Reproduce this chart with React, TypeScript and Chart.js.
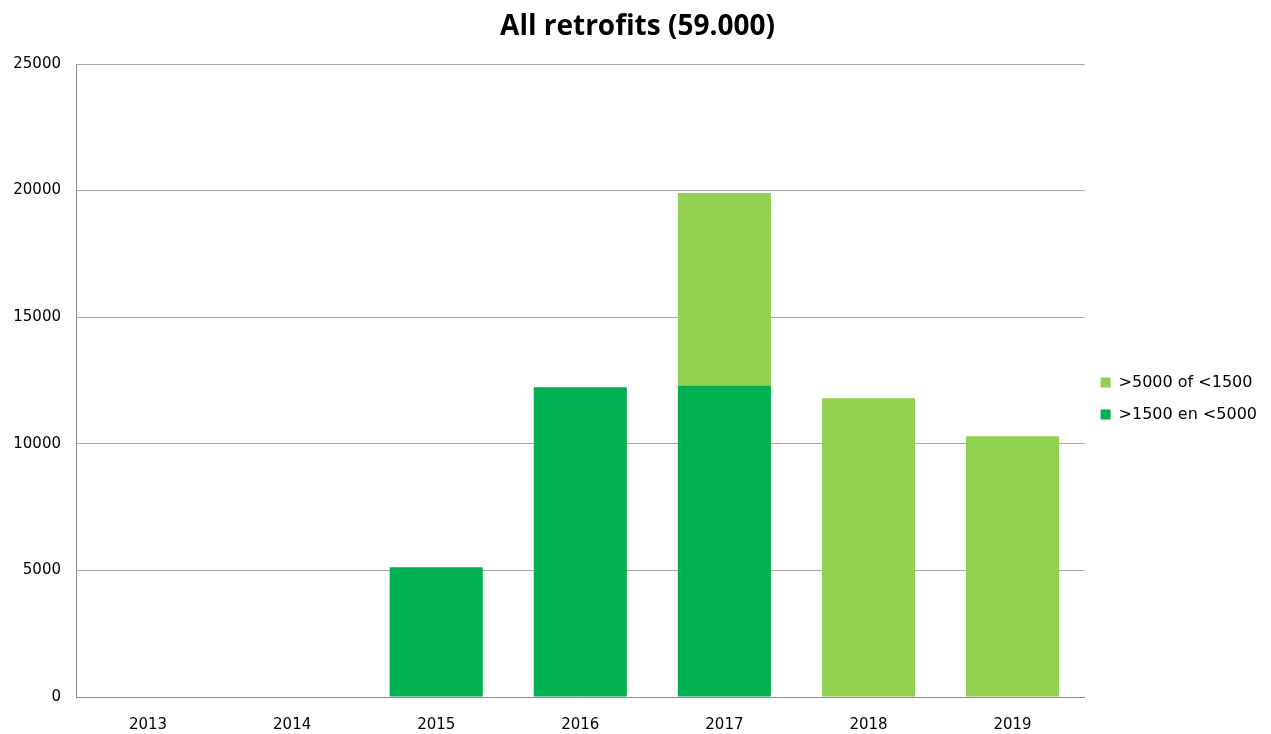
import React, { useEffect, useRef } from "react";
import { Chart, registerables } from "chart.js";

Chart.register(...registerables);

const categories = ["2013", "2014", "2015", "2016", "2017", "2018", "2019"];
const midRange = [0, 0, 5120, 12230, 12300, 0, 0];
const outerRange = [0, 0, 0, 0, 7610, 11800, 10300];
const yTicks = [0, 5000, 10000, 15000, 20000, 25000];
const titleText = "All retrofits (59.000)";
const seriesNames = [">1500 en <5000", ">5000 of <1500"];

export default function App() {
  const ref = useRef<HTMLCanvasElement>(null);
  useEffect(() => {
    document.documentElement.style.overflow = "hidden";
    if (!ref.current) return;
    const font = "'DejaVu Sans', sans-serif";
    const chart = new Chart(ref.current, {
      type: "bar",
      data: {
        labels: categories,
        datasets: [
          {
            label: seriesNames[0],
            data: midRange,
            backgroundColor: "#00B050",
            barPercentage: 0.646,
            categoryPercentage: 1,
          },
          {
            label: seriesNames[1],
            data: outerRange,
            backgroundColor: "#92D050",
            barPercentage: 0.646,
            categoryPercentage: 1,
          },
        ],
      },
      options: {
        animation: false,
        responsive: true,
        maintainAspectRatio: false,
        layout: { padding: { left: 0, right: -4, top: 0, bottom: 0 } },
        plugins: {
          title: {
            display: true,
            text: titleText,
            color: "#000000",
            font: { family: "'Open Sans', sans-serif", size: 28, weight: "bold" },
            padding: { top: 2, bottom: 20.4 },
          },
          legend: {
            position: "right",
            reverse: true,
            title: {
              display: true,
              text: " ",
              font: { size: 10 },
              padding: { top: 0, bottom: 43 },
            },
            labels: {
              boxWidth: 10,
              boxHeight: 10,
              color: "#000000",
              font: { family: font, size: 16 },
              padding: 16,
            },
          },
          tooltip: { enabled: false },
        },
        scales: {
          x: {
            stacked: true,
            grid: { display: false, drawTicks: false },
            border: { display: true, color: "#8c8c8c", width: 1 },
            ticks: { color: "#000000", font: { family: font, size: 15 }, padding: 19 },
            afterFit: (s: any) => {
              s.height = 37;
            },
          },
          y: {
            stacked: true,
            min: 0,
            max: 25000,
            afterBuildTicks: (s: any) => {
              s.ticks = yTicks.map((v) => ({ value: v }));
            },
            grid: { color: "#a6a6a6", drawTicks: false, lineWidth: 1 },
            border: { display: true, color: "#8c8c8c", width: 1 },
            ticks: {
              color: "#000000",
              font: { family: font, size: 15 },
              padding: 15,
              callback: (v: any) => String(v),
            },
            afterFit: (s: any) => {
              s.width = 68;
            },
          },
        },
      },
    });
    return () => chart.destroy();
  }, []);
  return (
    <div style={{ width: "1255px", height: "726px", position: "relative" }}>
      <canvas ref={ref} />
    </div>
  );
}
